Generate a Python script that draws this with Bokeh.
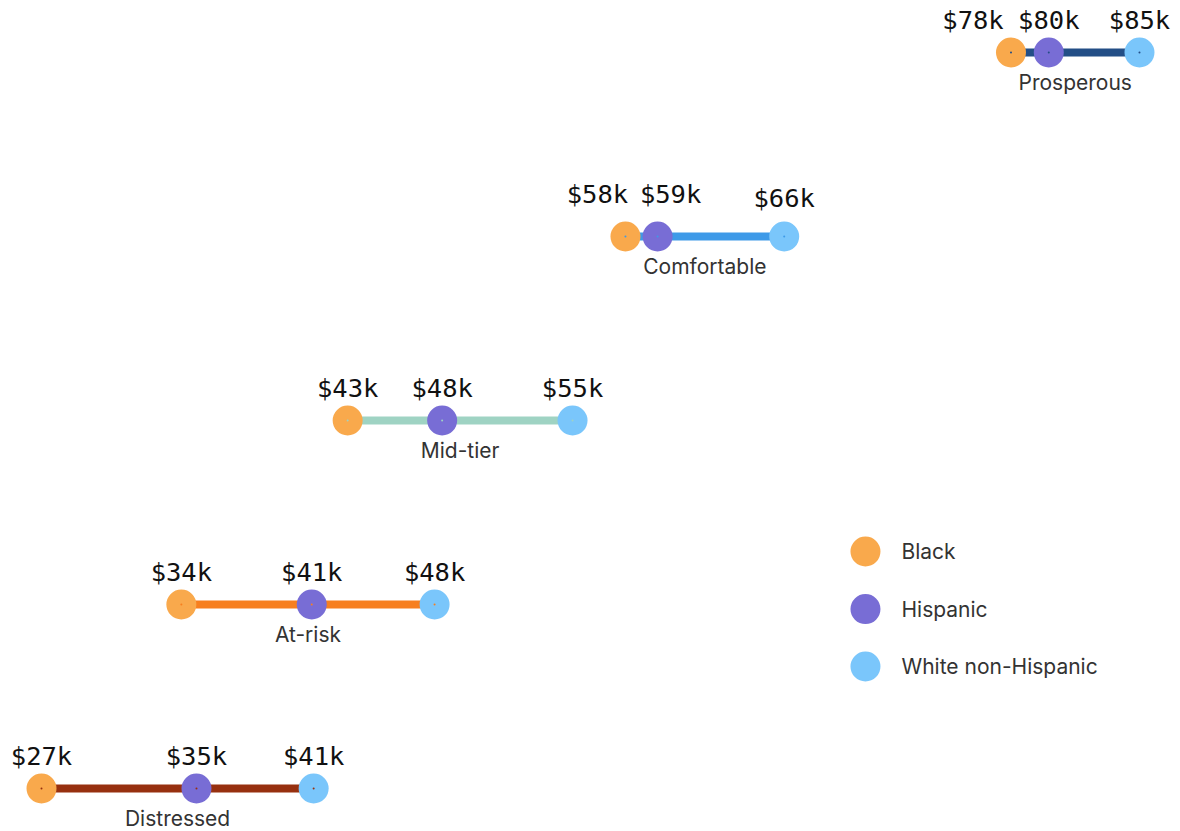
from bokeh.plotting import figure
from bokeh.models import ColumnDataSource, Range1d
from bokeh.core.properties import value
from bokeh.embed import file_html
from bokeh.resources import INLINE

# ---- data (median household income, $k) ----
tiers = ["Prosperous", "Comfortable", "Mid-tier", "At-risk", "Distressed"]
black = [78.1, 57.7, 43.0, 34.2, 26.8]
hispanic = [80.1, 59.4, 48.0, 41.1, 35.0]
white = [84.9, 66.1, 54.9, 47.6, 41.2]
groups = ["Black", "Hispanic", "White non-Hispanic"]

# ---- styles ----
tier_colors = ["#234e86", "#3e9ae8", "#9fd3c3", "#f77f1f", "#97300f"]
group_colors = ["#f9a94c", "#786dd5", "#7ac6fb"]
# label nudges (pixels) to avoid overlaps: (dx, dy) per tier per group
nudges = {
    0: [(-38, 0), (0, 0), (0, 0)],
    1: [(-28, 10), (13, 10), (0, 6)],
}

W, H = 1180, 831
p = figure(width=W, height=H, output_backend="svg", toolbar_location=None,
           x_range=Range1d(24.63, 87.07), y_range=Range1d(4.2337, -0.2826),
           min_border=0, outline_line_color=None)
p.axis.visible = False
p.grid.visible = False
p.background_fill_color = "white"
p.border_fill_color = "white"

rows = list(range(len(tiers)))
# connecting lines
for i in rows:
    lo = min(black[i], hispanic[i], white[i])
    hi = max(black[i], hispanic[i], white[i])
    p.line([lo, hi], [i, i], line_width=8, line_color=tier_colors[i])

series = [black, hispanic, white]
for g, vals in enumerate(series):
    src = ColumnDataSource(dict(x=vals, y=rows, c=tier_colors))
    p.scatter("x", "y", source=src, size=30, fill_color=group_colors[g], line_color=None)
    p.scatter("x", "y", source=src, size=2, fill_color="c", line_color=None)

# value labels
for i in rows:
    for g, vals in enumerate(series):
        dx, dy = nudges.get(i, [(0, 0)] * 3)[g]
        p.text([vals[i]], [i], text=["$%dk" % round(vals[i])],
               x_offset=dx, y_offset=-32 - dy,
               text_align="center", text_baseline="middle",
               text_font=value("DejaVu Sans Mono"), text_font_size="25.5px",
               text_color="#111111")

# tier labels
mids = [(min(b, h, w) + max(b, h, w)) / 2 for b, h, w in zip(black, hispanic, white)]
p.text(mids, rows, text=tiers, y_offset=30, text_align="center", text_baseline="middle",
       text_font=value("Inter"), text_font_size="21px", text_color="#333333")

# legend (manual)
leg_x = 70.4
leg_y = [2.712, 3.025, 3.337]
p.scatter([leg_x] * 3, leg_y, size=30, fill_color=group_colors, line_color=None)
p.text([leg_x] * 3, leg_y, text=groups, x_offset=36, text_align="left", text_baseline="middle",
       text_font=value("Inter"), text_font_size="21px", text_color="#333333")

open("out.html", "w").write(file_html(p, INLINE))
